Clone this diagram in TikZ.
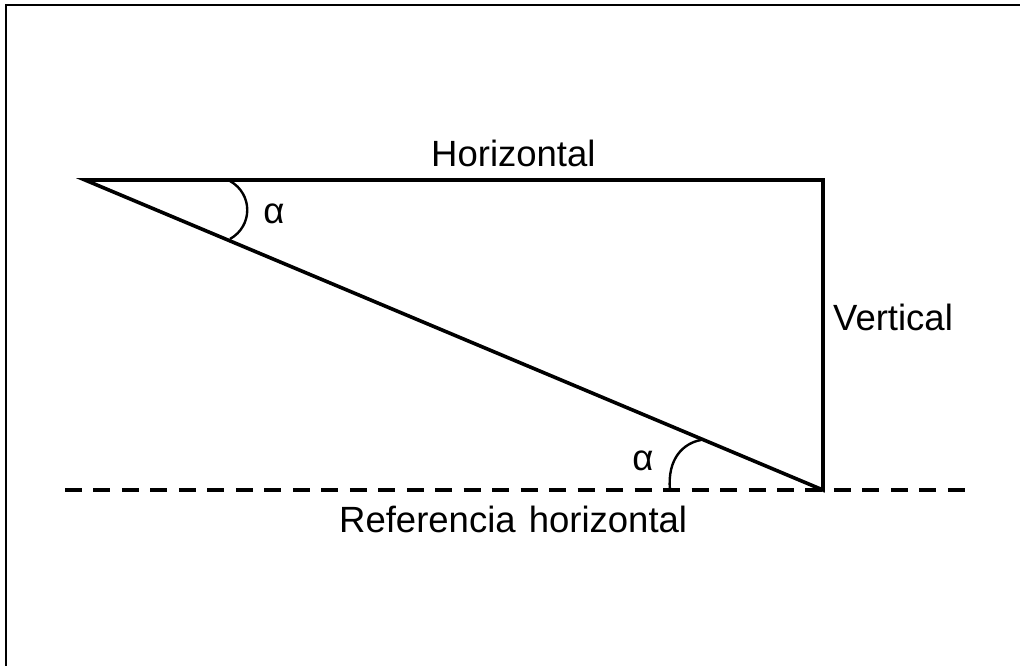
\documentclass[tikz,border=0pt]{standalone}
\usepackage{fontspec}
\setmainfont{Liberation Sans}
\begin{document}
\begin{tikzpicture}[x=1pt,y=-1pt,
  lbl/.style={inner sep=0pt,font=\fontsize{36.5}{43}\selectfont},
  side/.style={line width=3.6pt,line cap=round,line join=miter},
  anglearc/.style={line width=2.4pt},
  refline/.style={line width=3.4pt,dash pattern=on 17pt off 11.48pt},
  frame/.style={line width=2.4pt}]
\useasboundingbox (0,0) rectangle (1020,666);
% frame
\coordinate (f1) at (6,666);
\coordinate (f2) at (6,5);
\coordinate (f3) at (1020,5);
\draw[frame] (f1) -- (f2) -- (f3);
% triangle vertices
\coordinate (A) at (85,180);
\coordinate (B) at (823,180);
\coordinate (C) at (823,490);
\coordinate (L) at (65,490);
\coordinate (R) at (965,490);
\draw[refline] (L) -- (R);
\draw[side] (A) -- (B) -- (C) -- cycle;
% angle arcs
\coordinate (a1s) at (230,181);
\coordinate (a1e) at (230,239);
\draw[anglearc] (a1s) .. controls (253,194) and (253,226) .. (a1e);
\coordinate (a2s) at (670,490);
\coordinate (a2e) at (701,440);
\draw[anglearc] (a2s) .. controls (667,458) and (684,443) .. (a2e);
% labels
\node[lbl,anchor=base west] (hor) at (431,167) {Horizontal};
\node[lbl,anchor=base west] (ver) at (833,330) {Vertical};
\node[lbl,anchor=base west] (ref) at (339,532) {Referencia\hspace{0.36em}horizontal};
\node[lbl,anchor=base] (al1) at (274,223) {α};
\node[lbl,anchor=base] (al2) at (643,470) {α};
\end{tikzpicture}
\end{document}
